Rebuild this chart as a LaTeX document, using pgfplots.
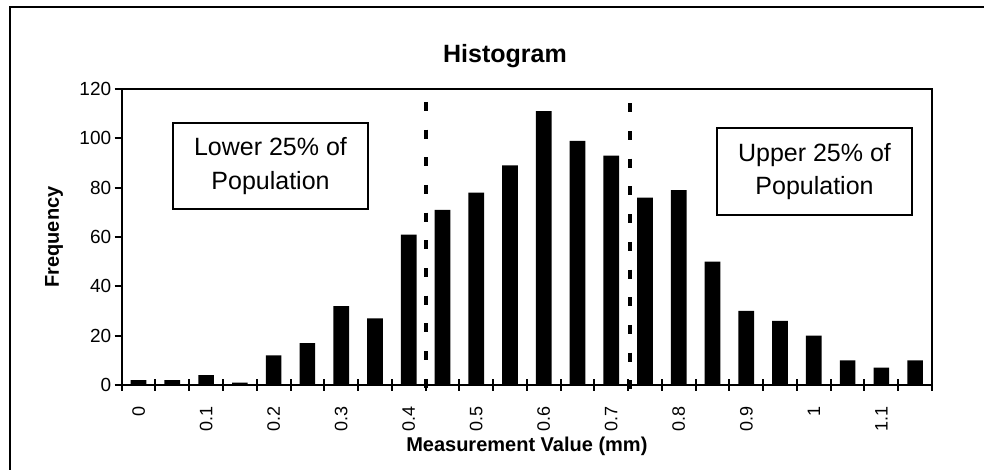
\documentclass[border=0pt]{standalone}
\usepackage{fontspec}
\setmainfont{Liberation Sans}
\usepackage{pgfplots}
\pgfplotsset{compat=1.18}
\begin{document}
\begin{tikzpicture}
\clip (0pt,0pt) rectangle (984pt,470pt);
\fill[white] (0pt,0pt) rectangle (984pt,470pt);
\draw[line width=2pt] (10pt,-10pt) -- (10pt,463pt) -- (994pt,463pt);
\begin{axis}[
  at={(121.7pt,85pt)}, anchor=south west,
  scale only axis, width=810.3pt, height=296pt,
  xmin=-0.5, xmax=23.5, ymin=0, ymax=120,
  clip=false,
  axis line style={line width=2pt},
  tick style={line width=2pt, black},
  major tick length=7pt,
  minor tick length=12pt,
  xtick align=center,
  ytick align=outside,
  xtick pos=bottom, ytick pos=left,
  ytick={0,20,...,120},
  xtick={-0.5,0.5,...,23.5},
  minor xtick={-0.5,0.5,...,23.5},
  xticklabels={0,,0.1,,0.2,,0.3,,0.4,,0.5,,0.6,,0.7,,0.8,,0.9,,1,,1.1,,},
  /pgf/number format/assume math mode=true,
  yticklabel style={font=\fontsize{19}{22}\selectfont},
  xticklabel style={font=\fontsize{18}{21}\selectfont, xshift=16.875pt, yshift=-14pt, rotate=90, anchor=east},
  every axis title/.style={at={(axis description cs:0.473,1)}, anchor=base, yshift=26pt, font=\bfseries\fontsize{25}{30}\selectfont},
  every axis x label/.style={at={(axis description cs:0.5,0)}, anchor=base, yshift=-67pt, font=\bfseries\fontsize{20}{24}\selectfont},
  every axis y label/.style={at={(axis description cs:0,0.5)}, xshift=-62.7pt, rotate=90, anchor=base, font=\bfseries\fontsize{20}{24}\selectfont},
  title={Histogram},
  xlabel={Measurement Value (mm)},
  ylabel={Frequency},
]
\addplot[ybar, bar width=15.7pt, fill=black, draw=none] coordinates {
(0,2) (1,2) (2,4) (3,1) (4,12) (5,17) (6,32) (7,27) (8,61) (9,71) (10,78) (11,89)
(12,111) (13,99) (14,93) (15,76) (16,79) (17,50) (18,30) (19,26) (20,20) (21,10) (22,7) (23,10)
};
\addplot[black, line width=4.5pt, dash pattern=on 9pt off 18.7pt] coordinates {(8.51,114.8) (8.51,-1.4)};
\addplot[black, line width=4.5pt, dash pattern=on 9pt off 18.7pt] coordinates {(14.56,114.2) (14.56,-1.9)};
\end{axis}
\node[draw, line width=2pt, minimum width=195pt, minimum height=86pt, align=center,
  font=\fontsize{25}{33.7}\selectfont, inner sep=0pt] at (270.5pt,304pt) {Lower 25\% of\\Population};
\node[draw, line width=2pt, minimum width=195pt, minimum height=87pt, align=center,
  font=\fontsize{25}{33.7}\selectfont, inner sep=0pt] at (814.5pt,298.5pt) {Upper 25\% of\\Population};
\end{tikzpicture}
\end{document}
